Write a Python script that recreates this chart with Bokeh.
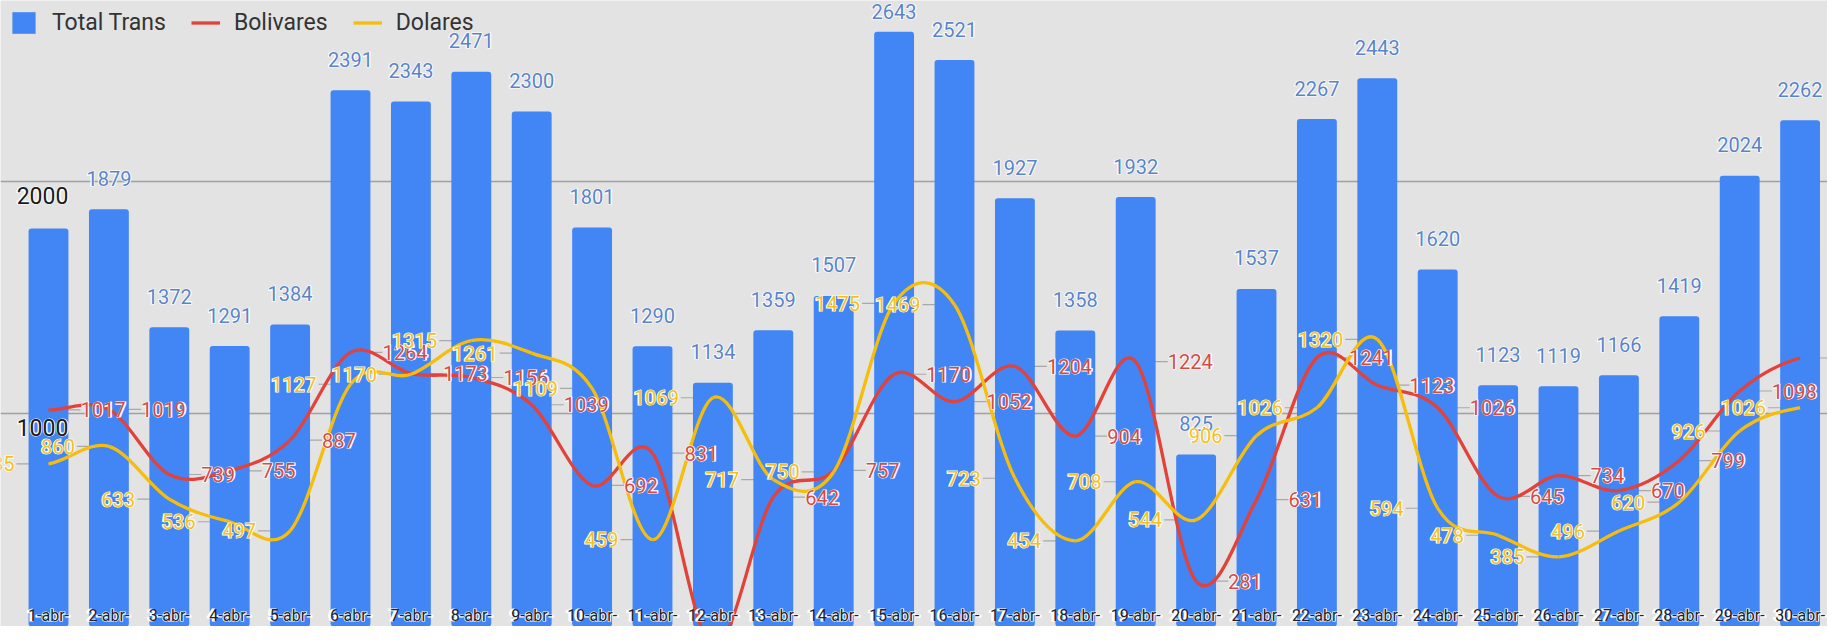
import numpy as np
from bokeh.plotting import figure
from bokeh.models import (ColumnDataSource, Range1d, Grid, FixedTicker, Legend, LegendItem)
from bokeh.core.properties import value
from bokeh.embed import file_html
from bokeh.resources import INLINE

# ---------------- data ----------------
days = ["1-abr-", "2-abr-", "3-abr-", "4-abr-", "5-abr-", "6-abr-", "7-abr-", "8-abr-",
        "9-abr-", "10-abr-", "11-abr-", "12-abr-", "13-abr-", "14-abr-", "15-abr-",
        "16-abr-", "17-abr-", "18-abr-", "19-abr-", "20-abr-", "21-abr-", "22-abr-",
        "23-abr-", "24-abr-", "25-abr-", "26-abr-", "27-abr-", "28-abr-", "29-abr-",
        "30-abr-"]
total_trans = [1797, 1879, 1372, 1291, 1384, 2391, 2343, 2471, 2300, 1801, 1290, 1134,
               1359, 1507, 2643, 2521, 1927, 1358, 1932, 825, 1537, 2267, 2443, 1620,
               1123, 1119, 1166, 1419, 2024, 2262]
bolivares = [1017, 1019, 739, 755, 887, 1264, 1173, 1156, 1039, 692, 831, 0, 642, 757,
             1170, 1052, 1204, 904, 1224, 281, 631, 1241, 1123, 1026, 645, 734, 670,
             799, 1098, 1240]
dolares = [785, 860, 633, 536, 497, 1127, 1170, 1315, 1261, 1109, 459, 1069, 717, 750,
           1475, 1469, 723, 454, 708, 544, 906, 1026, 1320, 594, 478, 385, 496, 620,
           926, 1026]
y_ticks = [1000, 2000]

# ---------------- style / layout ----------------
W, H = 1827, 626
BG = "#e3e3e3"
BLUE = "#4285f4"
RED = "#e2423a"
YELLOW = "#f5bd0c"
BLUE_TXT = "#5b84c8"
RED_TXT = "#d64a44"
YELLOW_TXT = "#f1c21e"
FONT = value("Roboto")

Y0, Y1 = 85.6, 2776.9
PX_PER_UNIT = H / (Y1 - Y0)
x_idx = np.arange(1, len(days) + 1, dtype=float)

p = figure(width=W, height=H, output_backend="svg", toolbar_location=None,
           x_range=Range1d(1 - 48 / 60.4, 1 + (W - 48) / 60.4),
           y_range=Range1d(Y0, Y1),
           x_axis_location=None, y_axis_location=None, min_border=0,
           background_fill_color=BG, border_fill_color=BG, outline_line_color=None)
p.grid.visible = False

p.add_layout(Grid(dimension=1, ticker=FixedTicker(ticks=y_ticks),
                  grid_line_color="#a0a0a0", grid_line_width=1.5))

tot = np.asarray(total_trans, dtype=float)
bol = np.asarray(bolivares, dtype=float)
dol = np.asarray(dolares, dtype=float)

src = ColumnDataSource(dict(x=x_idx, total=tot, bol=bol, dol=dol,
                            xr=x_idx + 0.53, xl=x_idx - 0.53))

# leader lines (drawn behind the bars)
p.segment(x0="x", y0="bol", x1="xr", y1="bol", source=src,
          line_color="#a8a8a8", line_width=1.2, level="underlay")
p.segment(x0="xl", y0="dol", x1="x", y1="dol", source=src,
          line_color="#a8a8a8", line_width=1.2, level="underlay")

bars = p.vbar(x="x", top="total", bottom=0, width=0.66, source=src,
              fill_color=BLUE, line_color=None, border_radius=3)


def smooth_source(v):
    m = np.empty(len(v))
    m[1:-1] = (v[2:] - v[:-2]) / 2.0
    m[0] = (v[1] - v[0]) / 2.0
    m[-1] = (v[-1] - v[-2]) / 2.0
    return ColumnDataSource(dict(xs=x_idx[:-1], xe=x_idx[1:], ys=v[:-1], ye=v[1:],
                                 cx0=x_idx[:-1] + 1 / 3, cx1=x_idx[1:] - 1 / 3,
                                 cy0=v[:-1] + m[:-1] / 3.0, cy1=v[1:] - m[1:] / 3.0))


def smooth_line(v, color):
    return p.bezier(x0="xs", y0="ys", x1="xe", y1="ye", cx0="cx0", cy0="cy0",
                    cx1="cx1", cy1="cy1", source=smooth_source(v),
                    line_color=color, line_width=3.3)


bol_line = smooth_line(bol, RED)
dol_line = smooth_line(dol, YELLOW)


def halo_text(source, color, size, **kw):
    # white halo underneath, coloured text on top
    p.text(source=source, text_color="white", text_outline_color="white",
           text_font=FONT, text_font_size=size, text_font_style="bold", **kw)
    p.text(source=source, text_color=color, text_font=FONT, text_font_size=size, **kw)


def fmt(vals, lo):
    return [str(int(v)) if v >= lo else "" for v in vals]


# bar value labels (the first one is hidden by the axis label in the original)
bar_center = (Y1 - tot) * PX_PER_UNIT - 31
bar_dy = -31 + np.maximum(0, 11 - bar_center)
bar_src = ColumnDataSource(dict(x=x_idx[1:], y=tot[1:], t=fmt(tot[1:], Y0),
                                dy=bar_dy[1:]))
halo_text(bar_src, BLUE_TXT, "20px", x="x", y="y", text="t", text_align="center",
          text_baseline="middle", y_offset="dy")

bol_src = ColumnDataSource(dict(x=x_idx, y=bol, t=fmt(bol, Y0)))
halo_text(bol_src, RED_TXT, "20px", x="x", y="y", text="t", text_align="left",
          text_baseline="middle", x_offset=32)

dol_src = ColumnDataSource(dict(x=x_idx, y=dol, t=fmt(dol, Y0)))
halo_text(dol_src, YELLOW_TXT, "20px", x="x", y="y", text="t", text_align="right",
          text_baseline="middle", x_offset=-34)

# value-axis labels
ax_src = ColumnDataSource(dict(x=[x_idx[0]] * len(y_ticks), y=y_ticks,
                               t=[str(t) for t in y_ticks]))
halo_text(ax_src, "#1a1a1a", "23px", x="x", y="y", text="t", text_align="center",
          text_baseline="middle", x_offset=-6, y_offset=14)

# category labels
cat_src = ColumnDataSource(dict(x=x_idx, y=[0] * len(days), t=days))
halo_text(cat_src, "#222222", "16px", x="x", y="y", text="t", text_align="center",
          text_baseline="middle", y_offset=-31)

legend = Legend(items=[LegendItem(label="Total Trans", renderers=[bars]),
                       LegendItem(label="Bolivares", renderers=[bol_line]),
                       LegendItem(label="Dolares", renderers=[dol_line])],
                location="top_left", orientation="horizontal",
                background_fill_alpha=0, border_line_alpha=0,
                label_text_font="Roboto", label_text_font_size="23px",
                label_text_color="#333333", glyph_width=29, glyph_height=27,
                label_height=27, label_standoff=14, spacing=25, padding=9, margin=0)
p.add_layout(legend)

open("out.html", "w").write(file_html(p, INLINE))
